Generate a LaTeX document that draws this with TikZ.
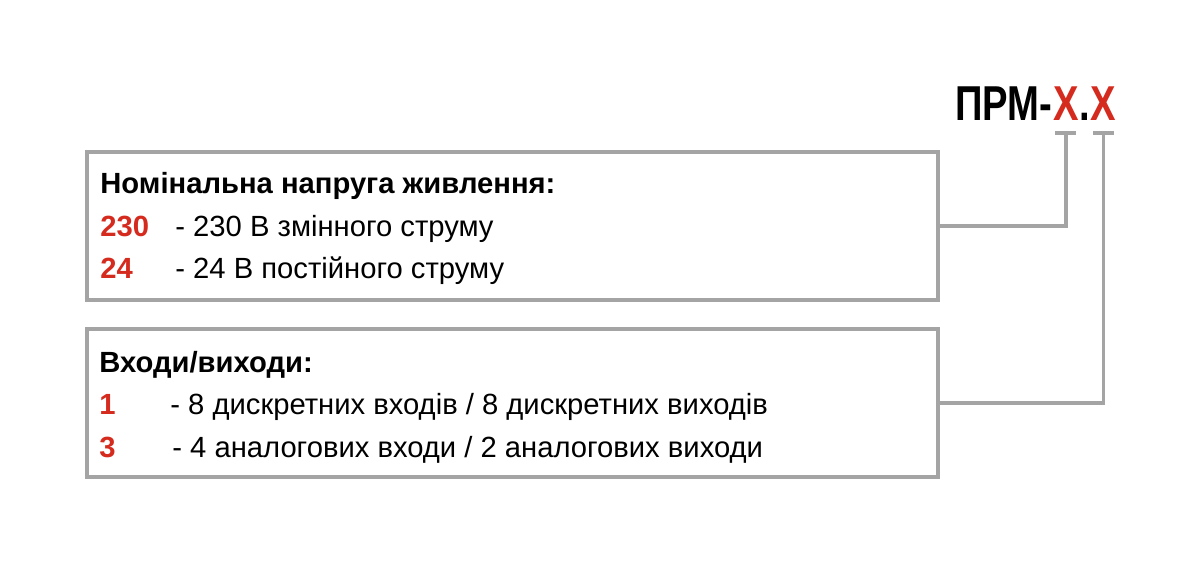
\documentclass[tikz,border=0pt]{standalone}
\usepackage{fontspec}
\setmainfont{Liberation Sans}
\newfontfamily\prmfont[FakeStretch=0.78]{Liberation Sans}
\usetikzlibrary{positioning}
\definecolor{prmred}{RGB}{213,43,30}
\definecolor{prmgray}{RGB}{163,164,163}
\tikzset{
  optbox/.style={draw=prmgray, line width=1.75pt, minimum width=425.5pt,
                 minimum height=74pt, inner sep=0pt},
  lnk/.style={prmgray, line width=1.75pt},
  hdr/.style={anchor=base west, inner sep=0pt, font=\fontsize{14.6}{17}\selectfont\bfseries},
  code/.style={anchor=base west, inner sep=0pt, text=prmred, font=\fontsize{14.6}{17}\selectfont\bfseries},
  desc/.style={anchor=base west, inner sep=0pt, font=\fontsize{14.6}{17}\selectfont},
  ttl/.style={anchor=base west, inner sep=0pt, font=\prmfont\fontsize{24.5}{28}\selectfont\bfseries},
}

\begin{document}
\begin{tikzpicture}[x=0.5pt, y=-0.5pt]
  \useasboundingbox (0,0) rectangle (1200,564);
  % model code
  \node[ttl] (prm) at (955,120) {ПРМ-};
  \node[ttl, text=prmred] (xa) at (prm.base east) {X};
  \node[ttl] (dot) at (xa.base east) {.};
  \node[ttl, text=prmred] (xb) at (dot.base east) {X};
  \coordinate (ta) at ([yshift=-6.5pt]xa.base);
  \coordinate (tb) at ([yshift=-6.5pt]xb.base);

  % supply voltage
  \node[optbox] (pwr) at (512.5,226) {};
  \node[hdr] (pwrh) at (100,193) {Номінальна напруга живлення:};
  \node[code] (c230) at (100,236) {230};
  \node[desc] at (175,236) {- 230 В змінного струму};
  \node[code] (c24) at (100,278) {24};
  \node[desc] at (175,278) {- 24 В постійного струму};

  % inputs/outputs
  \node[optbox] (io) at (512.5,403) {};
  \node[hdr] (ioh) at (99,372) {Входи/виходи:};
  \node[code] (c1) at (99,414) {1};
  \node[desc] at (170,414) {- 8 дискретних входів / 8 дискретних виходів};
  \node[code] (c3) at (99,457) {3};
  \node[desc] at (172,457) {- 4 аналогових входи / 2 аналогових виходи};

  % links
  \draw[lnk] ([xshift=-5.25pt]ta) -- ([xshift=5.25pt]ta);
  \draw[lnk] ([xshift=-5.25pt]tb) -- ([xshift=5.25pt]tb);
  \draw[lnk] (pwr.east) -| (ta);
  \draw[lnk] (io.east) -| (tb);
\end{tikzpicture}
\end{document}
